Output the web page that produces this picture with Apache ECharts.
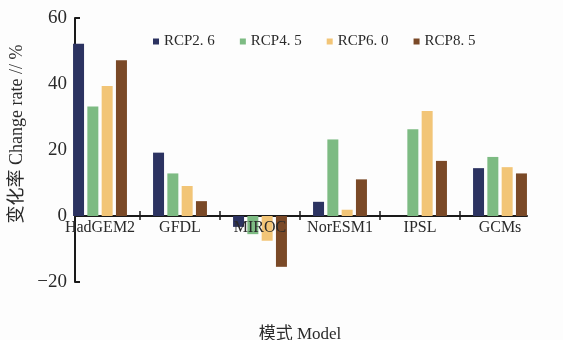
<!DOCTYPE html>
<html>
<head>
<meta charset="utf-8">
<script src="https://cdn.jsdelivr.net/npm/echarts@6/dist/echarts.min.js"></script>
<style>
  html, body { margin: 0; padding: 0; background: #fdfdfd; }
  #chart { width: 563px; height: 340px; }
</style>
</head>
<body>
<div id="chart"></div>
<script>
// Models along the x axis
const models = ['HadGEM2', 'GFDL', 'MIROC', 'NorESM1', 'IPSL', 'GCMs'];

// Change rate (%) for each emission scenario
const rcp26 = [52.2, 19.2, -3.3, 4.3, 0, 14.5];
const rcp45 = [33.2, 12.9, -5.5, 23.2, 26.3, 17.9];
const rcp60 = [39.4, 9.1, -7.5, 1.9, 31.8, 14.8];
const rcp85 = [47.2, 4.5, -15.4, 11.1, 16.7, 12.9];

const seriesNames = ['RCP2. 6', 'RCP4. 5', 'RCP6. 0', 'RCP8. 5'];
const seriesColors = ['#2c3361', '#7dbb83', '#f2c577', '#7a4927'];

// Value axis ticks
const yMin = -20, yMax = 60, yStep = 20;

const latin = '"Liberation Serif", "Noto Sans CJK SC", serif';
const ink = '#2a2a2a';
const axisInk = '#1a1a1a';
const clear = 'rgba(0,0,0,0)';

const chart = echarts.init(document.getElementById('chart'));

// a value axis that only provides the scale (its line is transparent)
const silentY = (gridIndex) => ({
  type: 'value', gridIndex, min: yMin, max: yMax, interval: yStep,
  axisLine: { show: true, lineStyle: { color: clear, width: 0 } },
  axisTick: { show: false },
  axisLabel: { show: false }, splitLine: { show: false }
});

// group separator ticks: one half above the zero line, one half below
const separatorAxis = (gridIndex, inside, length) => ({
  type: 'value', gridIndex, min: 1, max: 5, interval: 1, position: 'bottom',
  axisLine: { show: true, onZero: true, lineStyle: { color: clear, width: 0 } },
  axisTick: { show: true, inside, length, lineStyle: { color: axisInk, width: 1.5 } },
  axisLabel: { show: false }, splitLine: { show: false }
});

const bars = [rcp26, rcp45, rcp60, rcp85].map((vals, i) => ({
  name: seriesNames[i],
  type: 'bar',
  xAxisIndex: 0, yAxisIndex: 0,
  data: vals,
  barWidth: 11,
  barGap: '30%',
  itemStyle: { color: seriesColors[i] }
}));

const gridBox = { top: 18, bottom: 58, outerBoundsMode: 'none', containLabel: false };

chart.setOption({
  backgroundColor: '#fdfdfd',
  animation: false,
  legend: {
    data: seriesNames,
    left: 148, top: 29,
    icon: 'rect', itemWidth: 6, itemHeight: 6, itemGap: 25,
    textStyle: { fontFamily: latin, fontSize: 15, color: ink }
  },
  grid: [
    // bars and category labels
    Object.assign({ left: 60, right: 23 }, gridBox),
    // visible value axis and the zero line
    Object.assign({ left: 75, right: 36 }, gridBox),
    // separators between model groups (upper and lower halves)
    Object.assign({ left: 140, right: 103 }, gridBox),
    Object.assign({ left: 140, right: 103 }, gridBox)
  ],
  xAxis: [
    {
      // labels sit just under the zero line, the axis name near the bottom
      type: 'category', gridIndex: 0, data: models, z: 10, position: 'bottom', offset: -66,
      axisLine: { show: false, onZero: false },
      axisTick: { show: false },
      axisLabel: { interval: 0, fontFamily: latin, fontSize: 16, color: ink, margin: 4 },
      name: '模式 Model', nameLocation: 'middle', nameGap: 110,
      nameTextStyle: { fontFamily: latin, fontSize: 17, color: ink }
    },
    {
      type: 'value', gridIndex: 1, min: 0, max: 1, position: 'bottom',
      axisLine: { show: true, onZero: true, lineStyle: { color: axisInk, width: 2 } },
      axisTick: { show: false }, axisLabel: { show: false }, splitLine: { show: false }
    },
    separatorAxis(2, true, 5),
    separatorAxis(3, false, 4)
  ],
  yAxis: [
    silentY(0),
    {
      type: 'value', gridIndex: 1, min: yMin, max: yMax, interval: yStep,
      axisLine: { show: true, lineStyle: { color: axisInk, width: 2 } },
      axisTick: { show: true, inside: true, length: 5, lineStyle: { color: axisInk, width: 2 } },
      splitLine: { show: false },
      axisLabel: {
        fontFamily: latin, fontSize: 19, color: ink, margin: 8,
        formatter: (v) => String(v).replace('-', '\u2212')
      },
      name: '变化率 Change rate // %', nameLocation: 'middle', nameGap: 44, nameRotate: 90,
      nameTextStyle: { fontFamily: latin, fontSize: 18, color: ink, padding: [0, 0, 0, 32] }
    },
    silentY(2),
    silentY(3)
  ],
  series: bars
});
</script>
</body>
</html>
